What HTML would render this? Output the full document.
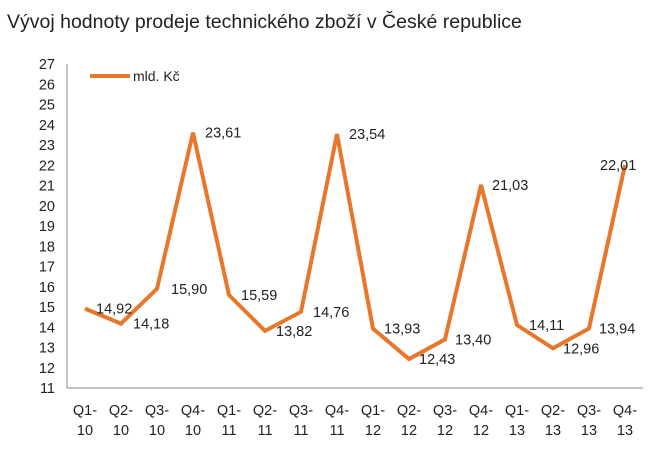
<!DOCTYPE html>
<html><head><meta charset="utf-8"><style>
body{margin:0;background:#fff;}
svg{display:block;font-family:"Liberation Sans",Arial,sans-serif;}
</style></head><body>
<svg id="c" width="655" height="450">
<text x="7" y="28" font-size="19.5" fill="#222">Vývoj hodnoty prodeje technického zboží v České republice</text>
<line x1="67" y1="64" x2="67" y2="388" stroke="#888"/>
<line x1="67" y1="388" x2="643" y2="388" stroke="#888"/>
<line x1="90" y1="76" x2="130" y2="76" stroke="#e8772a" stroke-width="4"/>
<text x="133" y="81" font-size="14" fill="#222">mld. Kč</text>
<g id="g"></g>
</svg>
<script>
const categories=["Q1-|10","Q2-|10","Q3-|10","Q4-|10","Q1-|11","Q2-|11","Q3-|11","Q4-|11","Q1-|12","Q2-|12","Q3-|12","Q4-|12","Q1-|13","Q2-|13","Q3-|13","Q4-|13"];
const values=[14.92,14.18,15.90,23.61,15.59,13.82,14.76,23.54,13.93,12.43,13.40,21.03,14.11,12.96,13.94,22.01];
const yTicks=[11,12,13,14,15,16,17,18,19,20,21,22,23,24,25,26,27];
const labelDx=[11,12,14,12,12,11,12,12,11,10,10,11,12,10,10,-25];
const NS="http://www.w3.org/2000/svg";
const g=document.getElementById('g');
const X0=67,W=36,Y0=388,K=20.25;
const x=i=>X0+W*i+W/2;
const y=v=>Y0-(v-11)*K;
function mk(t,a,txt){const e=document.createElementNS(NS,t);for(const k in a)e.setAttribute(k,a[k]);if(txt!=null)e.textContent=txt;g.appendChild(e);return e;}
yTicks.forEach(v=>{
 const e=mk('text',{x:55,y:y(v)+5,'font-size':14.5,'text-anchor':'end',fill:'#222'},String(v));
 
 
});
categories.forEach((c,i)=>{
 const p=c.split('|');
 const e=mk('text',{x:x(i),y:415,'font-size':14.5,'text-anchor':'middle',fill:'#222'},p[0]);
 
 
 const e2=mk('text',{x:x(i),y:435,'font-size':14.5,'text-anchor':'middle',fill:'#222'},p[1]);
 
 
});
const line=mk('polyline',{points:values.map((v,i)=>x(i)+','+y(v)).join(' '),fill:'none',stroke:'#e8772a','stroke-width':4,'stroke-linejoin':'miter'});


values.forEach((v,i)=>{
 const e=mk('text',{x:x(i)+labelDx[i],y:y(v)+5,'font-size':14.5,fill:'#222'},v.toFixed(2).replace('.',','));
 
 
});
</script>
</body></html>
